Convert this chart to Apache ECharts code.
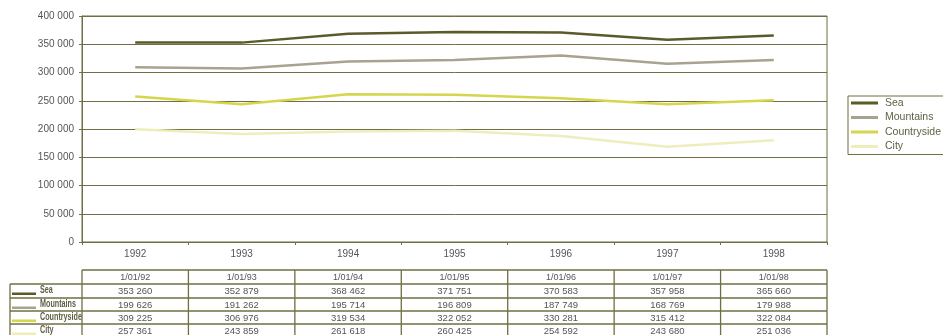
<!DOCTYPE html>
<html>
<head>
<meta charset="utf-8">
<script src="https://cdn.jsdelivr.net/npm/echarts@6/dist/echarts.min.js"></script>
<style>
html,body{margin:0;padding:0;background:#fff;}
#chart{width:943px;height:335px;}
</style>
</head>
<body>
<div id="chart"></div>
<script>
// Categories and series
var years = ['1992', '1993', '1994', '1995', '1996', '1997', '1998'];
var dates = ['1/01/92', '1/01/93', '1/01/94', '1/01/95', '1/01/96', '1/01/97', '1/01/98'];
var seaValues = [353260, 352879, 368462, 371751, 370583, 357958, 365660];
var mountainsValues = [309225, 306976, 319534, 322052, 330281, 315412, 322084];
var countrysideValues = [257361, 243859, 261618, 260425, 254592, 243680, 251036];
var cityValues = [199626, 191262, 195714, 196809, 187749, 168769, 179988];
var yTicks = [0, 50000, 100000, 150000, 200000, 250000, 300000, 350000, 400000];

var seriesNames = ['Sea', 'Mountains', 'Countryside', 'City'];
var seriesColors = ['#5a5a2a', '#a8a290', '#d5d54e', '#eeeebd'];
var seriesData = [seaValues, mountainsValues, countrysideValues, cityValues];

// Data table rows, in the order printed beneath the chart
var tableRows = [
  { label: 'Sea', color: seriesColors[0], values: seaValues },
  { label: 'Mountains', color: seriesColors[1], values: cityValues },
  { label: 'Countryside', color: seriesColors[2], values: mountainsValues },
  { label: 'City', color: seriesColors[3], values: countrysideValues }
];

var olive = '#6f6f43';
var textGray = '#555555';

function fmt(v) {
  return String(v).replace(/\B(?=(\d{3})+(?!\d))/g, ' ');
}

var chart = echarts.init(document.getElementById('chart'), null, { renderer: 'canvas' });

var option = {
  animation: false,
  backgroundColor: '#ffffff',
  grid: {
    left: 82, right: 116, top: 16, bottom: 93,
    show: true, borderColor: olive, borderWidth: 1, backgroundColor: 'transparent'
  },
  legend: {
    orient: 'vertical',
    left: 848, top: 96,
    padding: [1, 60, 2, 3],
    borderColor: olive, borderWidth: 1,
    itemWidth: 27, itemHeight: 3, itemGap: 2.5,
    icon: 'rect',
    textStyle: { color: '#5f5f45', fontSize: 10.5, fontFamily: 'Liberation Sans, Arial, sans-serif', lineHeight: 12, padding: [0, 0, 0, 2] },
    data: seriesNames
  },
  xAxis: {
    type: 'category',
    data: years,
    boundaryGap: true,
    axisLine: { lineStyle: { color: olive, width: 1 } },
    axisTick: { show: true, length: 3, lineStyle: { color: olive } },
    axisLabel: { color: textGray, fontSize: 10, fontFamily: 'Liberation Sans, Arial, sans-serif', margin: 7 }
  },
  yAxis: {
    type: 'value',
    min: yTicks[0], max: yTicks[yTicks.length - 1], interval: yTicks[1] - yTicks[0],
    axisLine: { show: true, lineStyle: { color: olive, width: 1 } },
    axisTick: { show: true, length: 3, lineStyle: { color: olive } },
    axisLabel: { color: textGray, fontSize: 10, fontFamily: 'Liberation Sans, Arial, sans-serif', margin: 8, formatter: fmt },
    splitLine: { show: true, lineStyle: { color: olive, width: 1 } }
  },
  series: seriesNames.map(function (name, i) {
    return {
      name: name,
      type: 'line',
      data: seriesData[i],
      symbol: 'none',
      itemStyle: { color: seriesColors[i] },
      lineStyle: { color: seriesColors[i], width: 2.5 },
      z: 10 - i
    };
  })
};

chart.setOption(option);

// Data table under the plot, aligned to the category bands
function buildTable() {
  var x0 = chart.convertToPixel({ xAxisIndex: 0 }, 0);
  var x1 = chart.convertToPixel({ xAxisIndex: 0 }, 1);
  var band = x1 - x0;
  var left = x0 - band / 2;
  var right = left + band * years.length;
  var labelLeft = 10;
  var headTop = 270, headBottom = 284;
  var rowTops = [284, 298, 311, 324];
  var rowH = 13.3;
  var bottom = 340;
  var els = [];
  var ls = { stroke: olive, lineWidth: 1.3 };

  // horizontal rules
  els.push({ type: 'line', shape: { x1: left, y1: headTop, x2: right, y2: headTop }, style: ls });
  els.push({ type: 'line', shape: { x1: labelLeft, y1: headBottom, x2: right, y2: headBottom }, style: ls });
  for (var r = 1; r < rowTops.length; r++) {
    els.push({ type: 'line', shape: { x1: labelLeft, y1: rowTops[r], x2: right, y2: rowTops[r] }, style: ls });
  }
  // vertical rules
  els.push({ type: 'line', shape: { x1: labelLeft, y1: headBottom, x2: labelLeft, y2: bottom }, style: ls });
  for (var c = 0; c <= years.length; c++) {
    var xc = left + band * c;
    els.push({ type: 'line', shape: { x1: xc, y1: headTop, x2: xc, y2: bottom }, style: ls });
  }
  // header dates
  dates.forEach(function (d, i) {
    els.push({
      type: 'text', x: left + band * (i + 0.5), y: (headTop + headBottom) / 2 + 0.5,
      style: { text: d, fill: textGray, font: '9px Liberation Sans, Arial, sans-serif', align: 'center', verticalAlign: 'middle' }
    });
  });
  // rows
  tableRows.forEach(function (row, r) {
    var top = rowTops[r];
    var mid = top + rowH / 2;
    els.push({ type: 'rect', shape: { x: 12, y: top + 8.5, width: 24, height: 2.5 }, style: { fill: row.color } });
    els.push({
      type: 'text', x: 40, y: mid - 0.5, scaleX: 0.72,
      style: { text: row.label, fill: '#5f5f45', font: 'bold 10px Liberation Sans, Arial, sans-serif', align: 'left', verticalAlign: 'middle' }
    });
    row.values.forEach(function (v, i) {
      els.push({
        type: 'text', x: left + band * (i + 0.5), y: mid + 0.5,
        style: { text: fmt(v), fill: textGray, font: '9.5px Liberation Sans, Arial, sans-serif', align: 'center', verticalAlign: 'middle' }
      });
    });
  });
  chart.setOption({ graphic: { elements: els } });
}
buildTable();
</script>
</body>
</html>
